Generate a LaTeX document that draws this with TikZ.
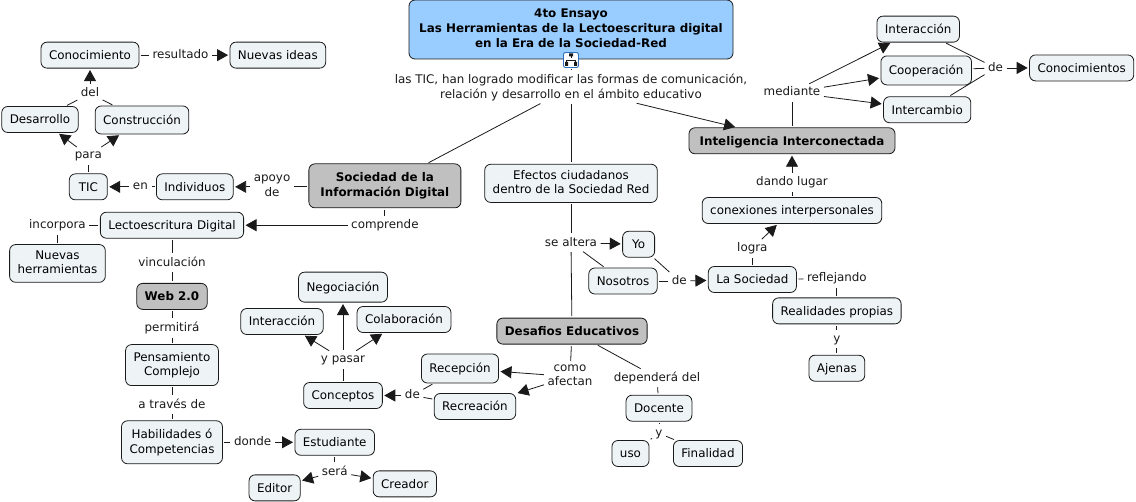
\documentclass[tikz,border=0pt]{standalone}
\usepackage{fontspec}
\setmainfont{DejaVu Sans}
\usetikzlibrary{arrows.meta,positioning}
\definecolor{ink}{HTML}{1A1A1A}
\definecolor{sky}{HTML}{99CCFF}
\definecolor{mist}{HTML}{EEF4F6}
\definecolor{stone}{HTML}{C0C0C0}
\definecolor{iconblue}{HTML}{2F6FC0}

\begin{document}
\begin{tikzpicture}[
 x=1pt,y=-1pt,
 font=\fontsize{11.9}{14.6}\selectfont,
 concept/.style={draw=ink,rounded corners=6pt,fill=mist,inner xsep=8pt,inner ysep=6pt,minimum height=26pt,align=center,line width=0.8pt,execute at begin node=\vphantom{Ág}},
 hub/.style={concept,fill=stone,font=\fontsize{11.9}{14.6}\selectfont\bfseries},
 phrase/.style={inner sep=2pt,align=center,text=ink,execute at begin node=\vphantom{Ag}},
 link/.style={draw=ink,line width=0.8pt,shorten <=1.5pt,shorten >=1.5pt},
 arrow/.style={link,-{Triangle[length=11pt,width=12pt]}}
]
\useasboundingbox (0,0) rectangle (1136,502);
% centre
\node[concept,fill=sky,font=\fontsize{11.9}{14.6}\selectfont\bfseries,minimum width=324pt,minimum height=59pt] (titulo) at (571,29.5) {4to Ensayo\\Las Herramientas de la Lectoescritura digital\\en la Era de la Sociedad-Red};
\node[phrase,below=12.5pt of titulo] (tic_frase) {las TIC, han logrado modificar las formas de comunicación,\\relación y desarrollo en el ámbito educativo};
\node[concept,below=61pt of tic_frase] (efectos) {Efectos ciudadanos\\dentro de la Sociedad Red};
\node[hub,left=23pt of efectos,yshift=-2.5pt,minimum width=152pt,minimum height=44pt] (sociedad) {Sociedad de la\\Información Digital};
\node[phrase,below=32pt of efectos] (altera) {se altera};
\node[hub,below=67pt of altera,xshift=1pt] (desafios) {Desafios Educativos};
\node[phrase,below=18pt of desafios,xshift=-2pt] (afectan) {como\\afectan};
\node[phrase,right=17pt of afectan,yshift=-1pt] (dependera) {dependerá del};
\node[concept,below=9pt of dependera,xshift=2pt] (docente) {Docente};
\node[phrase,below=4pt of docente] (y_docente) {y};
\node[concept] (uso) at (630.5,453.5) {uso};
\node[concept] (finalidad) at (708,453.5) {Finalidad};
\node[concept,right=23pt of altera,yshift=-1.5pt,minimum width=32pt] (yo) {Yo};
\node[concept] (nosotros) at (623,281) {Nosotros};
\node[phrase,right=12pt of nosotros] (de_soc) {de};
\node[concept,right=19pt of de_soc,yshift=1.5pt] (lasoc) {La Sociedad};
\node[phrase,above=10pt of lasoc] (logra) {logra};
\node[concept] (conexiones) at (792,210.5) {conexiones interpersonales};
\node[phrase,above=7pt of conexiones] (dando) {dando lugar};
\node[hub,above=20pt of dando,minimum width=206pt] (inteligencia) {Inteligencia Interconectada};
\node[phrase,above=27pt of inteligencia] (mediante) {mediante};
\node[concept,right=58pt of mediante,yshift=22pt,minimum height=29pt] (cooperacion) {Cooperación};
\node[concept,above=13pt of cooperacion,xshift=-8pt] (interaccion) {Interacción};
\node[concept,below=11pt of cooperacion,xshift=1pt] (intercambio) {Intercambio};
\node[phrase,right=14pt of cooperacion,yshift=2.5pt] (de_con) {de};
\node[concept,right=24pt of de_con] (conocimientos) {Conocimientos};
\node[phrase,right=8pt of lasoc,yshift=1pt] (reflejando) {reflejando};
\node[concept,below=11pt of reflejando] (realidades) {Realidades propias};
\node[phrase,below=7pt of realidades] (y_real) {y};
\node[concept,below=8pt of y_real] (ajenas) {Ajenas};
% left side
\node[phrase,left=16pt of sociedad,yshift=-1pt] (apoyo) {apoyo\\de};
\node[concept,left=18pt of apoyo] (individuos) {Individuos};
\node[phrase,left=6pt of individuos] (en) {en};
\node[concept,left=23pt of en,minimum width=38pt] (tic) {TIC};
\node[phrase,above=10pt of tic] (para) {para};
\node[concept] (desarrollo) at (40,119.5) {Desarrollo};
\node[concept,minimum height=28pt] (construccion) at (142,120) {Construcción};
\node[phrase] (del) at (90,93.5) {del};
\node[concept,above=17pt of del] (conocimiento) {Conocimiento};
\node[phrase,right=11pt of conocimiento] (resultado) {resultado};
\node[concept,right=19pt of resultado] (ideas) {Nuevas ideas};
\node[phrase,below=9pt of sociedad] (comprende) {comprende};
\node[concept,left=105pt of comprende] (lecto) {Lectoescritura Digital};
\node[phrase,left=12pt of lecto] (incorpora) {incorpora};
\node[concept,below=11pt of incorpora] (herramientas) {Nuevas\\herramientas};
\node[phrase,below=16pt of lecto] (vinculacion) {vinculación};
\node[hub,below=12pt of vinculacion] (web) {Web 2.0};
\node[phrase,below=10pt of web] (permitira) {permitirá};
\node[concept,below=8pt of permitira,minimum height=41pt] (pensamiento) {Pensamiento\\Complejo};
\node[phrase,below=10.5pt of pensamiento] (atraves) {a través de};
\node[concept,below=7.5pt of atraves,minimum height=43pt] (habilidades) {Habilidades ó\\Competencias};
\node[phrase,right=9pt of habilidades] (donde) {donde};
\node[concept,right=21pt of donde] (estudiante) {Estudiante};
\node[phrase,below=8pt of estudiante] (sera) {será};
\node[concept,left=19pt of sera,yshift=-16pt] (editor) {Editor};
\node[concept,right=23pt of sera,yshift=-12pt] (creador) {Creador};
\node[concept] (conceptos) at (343,395.5) {Conceptos};
\node[phrase,above=15pt of conceptos] (pasar) {y pasar};
\node[concept,above=49pt of pasar,minimum height=30pt] (negociacion) {Negociación};
\node[concept] (interaccion_b) at (282,321.5) {Interacción};
\node[concept] (colaboracion) at (404,319.5) {Colaboración};
\node[phrase,right=20pt of conceptos] (de_rec) {de};
\node[concept,minimum height=29pt] (recepcion) at (460,368.5) {Recepción};
\node[concept] (recreacion) at (475,406.5) {Recreación};
% mapa icon on the title
\node[draw=iconblue,fill=white,rounded corners=2pt,line width=0.9pt,minimum size=15pt,inner sep=0pt] (icono) at (571,60) {};
\draw[ink,line width=0.6pt] (571,55)--(571,58) (566.5,60)--(575.5,60) (566.5,60)--(566.5,62) (575.5,60)--(575.5,62);
\fill[ink] (569,53.5) rectangle (573,56.5) (565,62) rectangle (568,66) (574,62) rectangle (577,66);
\draw[link] (icono)--(tic_frase);
% connectors
\draw[link] (tic_frase)--(sociedad);
\draw[link] (tic_frase)--(efectos);
\draw[arrow] (tic_frase)--(inteligencia);
\draw[link] (sociedad.west |- apoyo)--(apoyo);
\draw[arrow] (apoyo)--(individuos);
\draw[link] (individuos)--(en);
\draw[arrow] (en)--(tic);
\draw[link] (tic)--(para);
\draw[arrow] (para)--(desarrollo);
\draw[arrow] (para)--(construccion);
\draw[link] (desarrollo)--(del);
\draw[link] (construccion)--(del);
\draw[arrow] (del)--(conocimiento);
\draw[link] (conocimiento)--(resultado);
\draw[arrow] (resultado)--(ideas);
\draw[link] (sociedad)--(comprende);
\draw[arrow] (comprende)--(lecto);
\draw[link] (lecto)--(incorpora);
\draw[link] (incorpora)--(herramientas);
\draw[link] (lecto)--(vinculacion);
\draw[link] (vinculacion)--(web);
\draw[link] (web)--(permitira);
\draw[link] (permitira)--(pensamiento);
\draw[link] (pensamiento)--(atraves);
\draw[link] (atraves)--(habilidades);
\draw[link] (habilidades)--(donde);
\draw[arrow] (donde)--(estudiante);
\draw[link] (estudiante)--(sera);
\draw[arrow] (sera)--(editor);
\draw[arrow] (sera)--(creador);
\draw[link] (conceptos)--(pasar);
\draw[arrow] (pasar)--(negociacion);
\draw[arrow] (pasar)--(interaccion_b);
\draw[arrow] (pasar)--(colaboracion);
\draw[link] (recepcion)--(de_rec);
\draw[link] (recreacion)--(de_rec);
\draw[arrow] (de_rec)--(conceptos);
\draw[link] (efectos)--(altera);
\draw[arrow] (altera)--(yo);
\draw[link] (altera)--(nosotros);
\draw[link] (altera)--(desafios);
\draw[link] (yo)--(de_soc);
\draw[link] (nosotros)--(de_soc);
\draw[arrow] (de_soc)--(lasoc);
\draw[link] (lasoc)--(logra);
\draw[arrow] (logra)--(conexiones);
\draw[link] (conexiones)--(dando);
\draw[arrow] (dando)--(inteligencia);
\draw[link] (lasoc)--(reflejando);
\draw[link] (reflejando)--(realidades);
\draw[link] (realidades)--(y_real);
\draw[link] (y_real)--(ajenas);
\draw[link] (inteligencia)--(mediante);
\draw[arrow] (mediante)--(interaccion);
\draw[arrow] (mediante)--(cooperacion);
\draw[arrow] (mediante)--(intercambio);
\draw[link] (interaccion)--(de_con);
\draw[link] (cooperacion)--(de_con);
\draw[link] (intercambio)--(de_con);
\draw[arrow] (de_con)--(conocimientos);
\draw[link] (desafios)--(afectan);
\draw[arrow] (afectan)--(recepcion);
\draw[arrow] (afectan)--(recreacion);
\draw[link] (desafios)--(dependera);
\draw[link] (dependera)--(docente);
\draw[link] (docente)--(y_docente);
\draw[link] (y_docente)--(uso);
\draw[link] (y_docente)--(finalidad);
\end{tikzpicture}
\end{document}
